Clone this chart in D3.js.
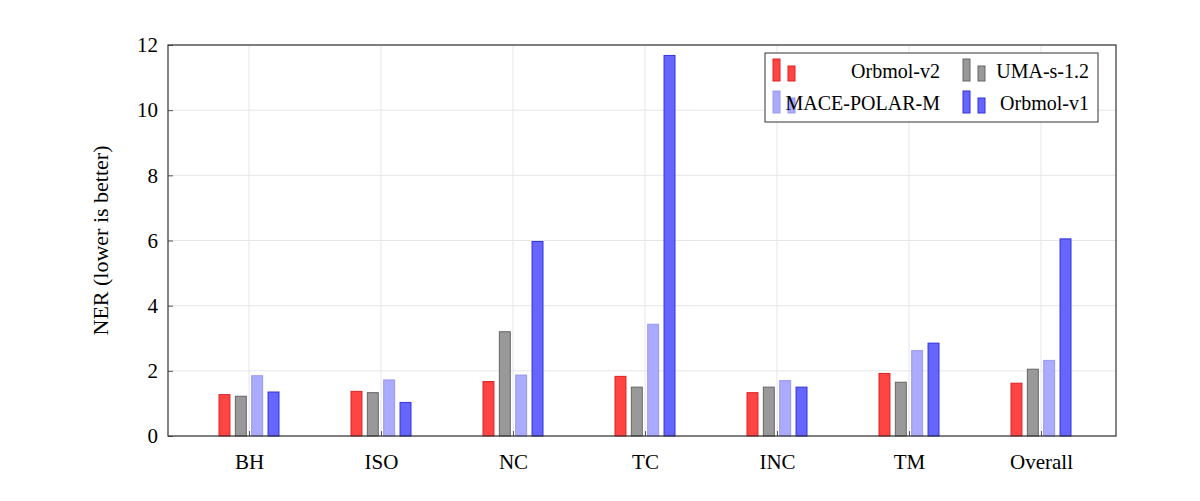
<!DOCTYPE html>
<html><head><meta charset="utf-8">
<script src="https://cdn.jsdelivr.net/npm/d3@7"></script>
<style>body{margin:0;background:#fff}text{font-family:"Liberation Serif","DejaVu Serif",serif;fill:#000}</style>
</head><body><svg id="chart" width="1200" height="501"></svg>
<script>
const categories = ["BH", "ISO", "NC", "TC", "INC", "TM", "Overall"]
const seriesNames = ["Orbmol-v2", "UMA-s-1.2", "MACE-POLAR-M", "Orbmol-v1"]
const orbmolV2 = [1.27, 1.37, 1.67, 1.83, 1.33, 1.92, 1.62]
const umaS12 = [1.22, 1.33, 3.2, 1.5, 1.5, 1.65, 2.05]
const macePolar = [1.85, 1.72, 1.87, 3.43, 1.7, 2.62, 2.32]
const orbmolV1 = [1.35, 1.03, 5.97, 11.68, 1.5, 2.85, 6.05]
const yTicks = [0, 2, 4, 6, 8, 10, 12]

const fills = ["#f44", "#999", "#aaf", "#66f"]
const strokes = ["#d22", "#666", "#99e", "#33d"]
const series = [orbmolV2, umaS12, macePolar, orbmolV1]

const svg = d3.select("#chart")
const pLeft = 168, pRight = 1116, pTop = 45, pBottom = 436

const x = d3.scalePoint().domain(categories).range([249, 1041])
const y = d3.scaleLinear().domain([0, 12]).range([pBottom, pTop])
const offset = d3.scaleBand().domain(d3.range(4)).range([-30, 30]).paddingInner(0.33)

//grid
svg.append("g").selectAll("line").data(yTicks).join("line")
    .attr("x1", pLeft).attr("x2", pRight).attr("y1", d => y(d)).attr("y2", d => y(d))
    .attr("stroke", "#e6e6e6")
svg.append("g").selectAll("line").data(categories).join("line")
    .attr("x1", d => x(d)).attr("x2", d => x(d)).attr("y1", pTop).attr("y2", pBottom)
    .attr("stroke", "#e6e6e6")

//bars
series.forEach((vals, i) => {
    svg.append("g").selectAll("rect").data(vals).join("rect")
        .attr("x", (d, j) => x(categories[j]) + offset(i))
        .attr("width", offset.bandwidth())
        .attr("y", d => y(d))
        .attr("height", d => pBottom - y(d))
        .attr("fill", fills[i]).attr("stroke", strokes[i]).attr("stroke-width", 1)
})

//axes
const yAxis = svg.append("g").attr("transform", `translate(${pLeft},0)`)
    .call(d3.axisLeft(y).tickValues(yTicks).tickSize(-5).tickPadding(10))
const xAxis = svg.append("g").attr("transform", `translate(0,${pBottom})`)
    .call(d3.axisBottom(x).tickSize(-5).tickPadding(18))
;[yAxis, xAxis].forEach(g => {
    g.select(".domain").remove()
    g.selectAll("line").attr("stroke", "#555")
    g.selectAll("text").style("font-size", "21px").style("font-family", '"Liberation Serif",serif')
})
svg.append("rect").attr("x", pLeft).attr("y", pTop).attr("width", pRight - pLeft).attr("height", pBottom - pTop)
    .attr("fill", "none").attr("stroke", "#333").attr("stroke-width", 1.2)

svg.append("text").attr("transform", `translate(108,${(pTop + pBottom) / 2}) rotate(-90)`)
    .attr("text-anchor", "middle").style("font-size", "22px").text("NER (lower is better)")

//legend
const lg = svg.append("g")
lg.append("rect").attr("x", 765).attr("y", 53).attr("width", 333).attr("height", 69)
    .attr("fill", "#fff").attr("stroke", "#333")
const legPos = [[773, 949, 69], [963, 1098, 69], [773, 949, 101], [963, 1098, 101]]
seriesNames.forEach((name, i) => {
    const [lx, tx, ly] = legPos[i]
    lg.append("rect").attr("x", lx).attr("y", ly - 10).attr("width", 7).attr("height", 22)
        .attr("fill", fills[i]).attr("stroke", strokes[i])
    lg.append("rect").attr("x", lx + 15).attr("y", ly - 3).attr("width", 7).attr("height", 15)
        .attr("fill", fills[i]).attr("stroke", strokes[i])
    lg.append("text").attr("x", tx - 9).attr("y", ly + 9).attr("text-anchor", "end")
        .style("font-size", "20px").text(name)
})
</script></body></html>
